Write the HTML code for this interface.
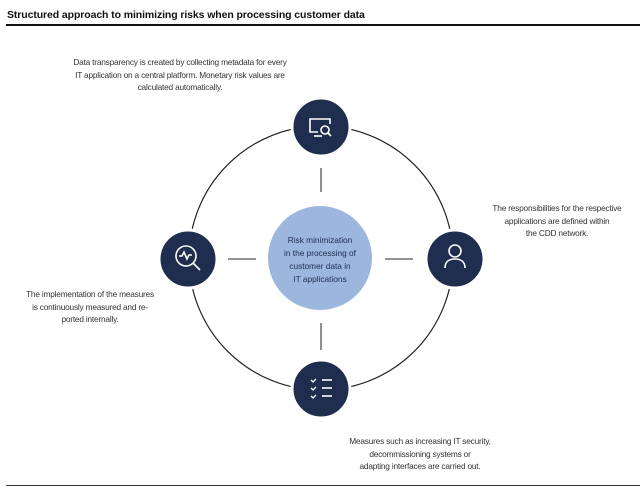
<!DOCTYPE html>
<html><head><style>
body{margin:0;background:#fff;width:640px;height:498px;overflow:hidden;font-family:"Liberation Sans",sans-serif;}
.t{position:absolute;font-size:8.3px;color:#333;line-height:12.5px;text-align:center;letter-spacing:-0.2px;white-space:nowrap}
</style></head><body>
<div style="position:absolute;left:7px;top:9px;font-size:10.5px;font-weight:bold;color:#111;letter-spacing:-0.1px">Structured approach to minimizing risks when processing customer data</div>
<div style="position:absolute;left:6px;top:24px;width:634px;height:2px;background:#111"></div>
<div style="position:absolute;left:6px;top:485px;width:634px;height:1px;background:#333"></div>
<div class="t" style="left:50px;top:56px;width:260px">Data transparency is created by collecting metadata for every<br>IT application on a central platform. Monetary risk values are<br>calculated automatically.</div>
<div class="t" style="left:472px;top:202px;width:170px">The responsibilities for the respective<br>applications are defined within<br>the CDD network.</div>
<div class="t" style="left:5px;top:288px;width:170px">The implementation of the measures<br>is continuously measured and re-<br>ported internally.</div>
<div class="t" style="left:335px;top:435px;width:170px">Measures such as increasing IT security,<br>decommissioning systems or<br>adapting interfaces are carried out.</div>
<svg width="640" height="498" style="position:absolute;left:0;top:0">
<circle cx="321" cy="258" r="132" fill="none" stroke="#222" stroke-width="1.2"/>
<g stroke="#555" stroke-width="1.3">
<line x1="321" y1="168" x2="321" y2="192"/><line x1="321" y1="323" x2="321" y2="350"/>
<line x1="228" y1="259" x2="256" y2="259"/><line x1="385" y1="259" x2="413" y2="259"/>
</g>
<circle cx="320" cy="258" r="52" fill="#9db6dd"/>
<text font-family="Liberation Sans" font-size="8.3" fill="#1f2d4f" text-anchor="middle"><tspan x="320" y="243">Risk minimization</tspan><tspan x="320" y="256">in the processing of</tspan><tspan x="320" y="269">customer data in</tspan><tspan x="320" y="282">IT applications</tspan></text>
<g fill="#1f2d4f" stroke="#fff">
<circle cx="321" cy="127" r="29" stroke-width="3"/>
<circle cx="188" cy="259" r="29" stroke-width="3"/>
<circle cx="455" cy="259" r="29" stroke-width="3"/>
<circle cx="321" cy="389" r="29" stroke-width="3"/>
</g>
<g fill="none" stroke="#fff" stroke-width="1.6">
<path d="M318 132h-8v-13h20v5"/><line x1="314" y1="136" x2="322" y2="136"/>
<circle cx="325" cy="130" r="4"/><line x1="328" y1="133" x2="331" y2="136"/>
<circle cx="186" cy="256" r="10"/><line x1="193" y1="263" x2="200" y2="270"/>
<path d="M179 256h3l2-4 3 7 2-4h3"/>
<circle cx="455" cy="251" r="6"/><path d="M445 268c0-7 5-9 10-9s10 2 10 9"/>
<line x1="322" y1="380" x2="332" y2="380"/><line x1="322" y1="388" x2="332" y2="388"/><line x1="322" y1="396" x2="332" y2="396"/>
<path d="M311 380l2 2 3-3M311 388l2 2 3-3M311 396l2 2 3-3" stroke-width="1.3"/>
</g>
</svg>
</body></html>
